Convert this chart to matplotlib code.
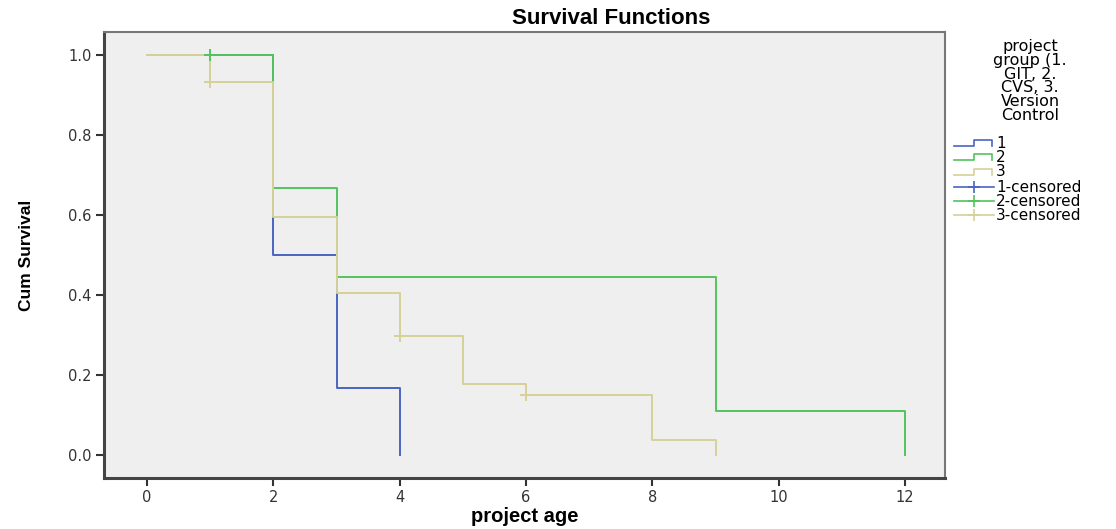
import matplotlib
matplotlib.use("Agg")
import matplotlib.pyplot as plt
from matplotlib.lines import Line2D

# Datos
t1 = [0, 2, 3, 4]
s1 = [1.0, 0.5, 0.1667, 0.0]
t2 = [0, 2, 3, 9, 12]
s2 = [1.0, 0.667, 0.444, 0.111, 0.0]
t3 = [0, 1, 2, 3, 4, 5, 6, 8, 9]
s3 = [1.0, 0.933, 0.595, 0.405, 0.297, 0.178, 0.149, 0.037, 0.0]

c1_t, c1_s = [], []
c2_t, c2_s = [1], [1.0]
c3_t, c3_s = [1, 4, 6], [0.933, 0.297, 0.149]

labels = ["1", "2", "3", "1-censored", "2-censored", "3-censored"]
legend_title = "project\ngroup (1.\nGIT, 2.\nCVS, 3.\nVersion\nControl"
xticks = [0, 2, 4, 6, 8, 10, 12]
yticks = [0.0, 0.2, 0.4, 0.6, 0.8, 1.0]

blue = "#4a64c2"
green = "#52c35e"
tan = "#d6d199"

fig = plt.figure(figsize=(11.16, 5.29), dpi=100)
ax = fig.add_axes([104 / 1116, 1 - 478 / 529, (945 - 104) / 1116, (478 - 32) / 529])
ax.set_facecolor("#efefef")

ax.plot(t1, s1, drawstyle="steps-post", color=blue, lw=1.4)
ax.plot(t2, s2, drawstyle="steps-post", color=green, lw=1.4)
ax.plot(t3, s3, drawstyle="steps-post", color=tan, lw=1.4)
ax.plot(c1_t, c1_s, "+", color=blue, ms=8, mew=1.4)
ax.plot(c2_t, c2_s, "+", color=green, ms=8, mew=1.4)
ax.plot(c3_t, c3_s, "+", color=tan, ms=8, mew=1.4)

ax.set_xlim(-0.68, 12.63)
ax.set_ylim(-0.0575, 1.0575)
ax.set_xticks(xticks)
ax.set_yticks(yticks)
ax.set_xticklabels([str(v) for v in xticks])
ax.set_yticklabels(["%.1f" % v for v in yticks])
ax.tick_params(direction="out", length=6, width=1.5, color="#333333",
               labelsize=10.5, labelcolor="#333333", pad=3)
for side in ["top", "right"]:
    ax.spines[side].set_color("#777777")
    ax.spines[side].set_linewidth(1.5)
for side in ["left", "bottom"]:
    ax.spines[side].set_color("#444444")
    ax.spines[side].set_linewidth(2.2)

fig.text(611 / 1116, 1 - 18 / 529, "Survival Functions", ha="center", va="center",
         fontsize=16, fontweight="bold", family=["Liberation Sans", "DejaVu Sans"])
fig.text(525 / 1116, 1 - 517 / 529, "project age", ha="center", va="center",
         fontsize=14.5, fontweight="bold", family=["Liberation Sans", "DejaVu Sans"])
fig.text(27 / 1116, 1 - 255 / 529, "Cum Survival", rotation=90, ha="center",
         va="center", fontsize=12.5, fontweight="bold",
         family=["Liberation Sans Narrow", "Liberation Sans", "DejaVu Sans"])

# Leyenda dibujada a mano
fig.text(1030 / 1116, 1 - 39 / 529, legend_title, ha="center", va="top",
         fontsize=11.5, linespacing=0.9)
colors = [blue, green, tan, blue, green, tan]
ys = [143, 157, 172, 187, 201, 215]
for lab, col, yy in zip(labels, colors, ys):
    y = 1 - yy / 529
    if "censored" in lab:
        fig.add_artist(Line2D([954 / 1116, 994 / 1116], [y, y], color=col, lw=1.2))
        fig.add_artist(Line2D([974 / 1116], [y], marker="+", color=col, ms=9, mew=1.2))
    else:
        h = 6 / 529
        xs = [954, 974, 974, 992, 992]
        yv = [y - h / 2, y - h / 2, y + h / 2, y + h / 2, y - h / 2]
        fig.add_artist(Line2D([v / 1116 for v in xs], yv, color=col, lw=1.2))
    fig.text(996 / 1116, y, lab, ha="left", va="center", fontsize=11)

fig.savefig("out.png", dpi=100, facecolor="white")
